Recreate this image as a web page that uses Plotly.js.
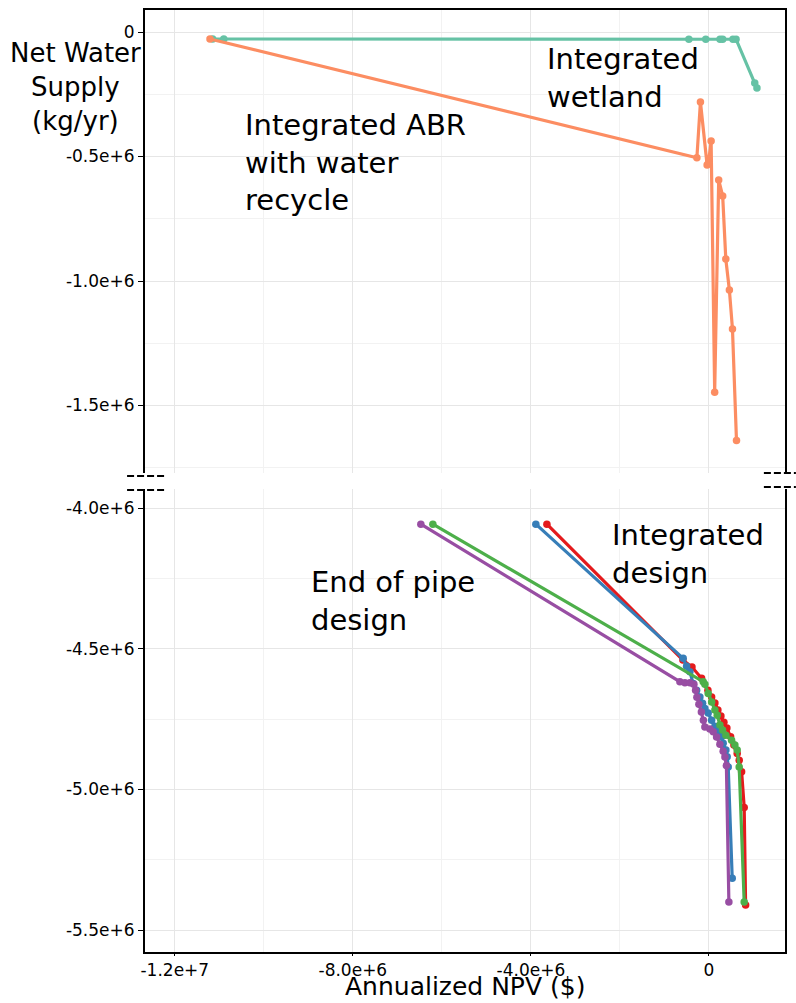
<!DOCTYPE html>
<html>
<head>
<meta charset="utf-8">
<script src="https://cdn.plot.ly/plotly-3.0.1.min.js"></script>
<style>html,body{margin:0;padding:0;background:#fff;}#chart{width:796px;height:1003px;}</style>
</head>
<body>
<div id="chart"></div>
<script>
// ---- Top panel: Integrated wetland (teal) ----
const wetlandX = [-11.15e6, -10.9e6, -0.45e6, -0.07e6, 0.25e6, 0.31e6, 0.54e6, 0.61e6, 1.03e6, 1.08e6];
const wetlandY = [-0.028e6, -0.028e6, -0.029e6, -0.029e6, -0.029e6, -0.029e6, -0.029e6, -0.029e6, -0.205e6, -0.225e6];

// ---- Top panel: Integrated ABR with water recycle (orange) ----
const abrX = [-11.21e6, -0.27e6, -0.19e6, -0.04e6, -0.01e6, 0.05e6, 0.13e6, 0.22e6, 0.31e6, 0.38e6, 0.46e6, 0.53e6, 0.62e6];
const abrY = [-0.028e6, -0.505e6, -0.281e6, -0.534e6, -0.526e6, -0.438e6, -1.447e6, -0.594e6, -0.659e6, -0.912e6, -1.036e6, -1.193e6, -1.641e6];

// ---- Bottom panel: Integrated design (red, blue) ----
const redX = [-3.64e6, -0.584e6, -0.38e6, -0.164e6, -0.022e6, 0.061e6, 0.135e6, 0.202e6, 0.270e6, 0.337e6, 0.404e6, 0.488e6, 0.562e6, 0.636e6, 0.681e6, 0.735e6, 0.793e6, 0.825e6];
const redY = [-4.057e6, -4.540e6, -4.565e6, -4.605e6, -4.647e6, -4.671e6, -4.693e6, -4.718e6, -4.739e6, -4.761e6, -4.782e6, -4.813e6, -4.842e6, -4.872e6, -4.896e6, -4.937e6, -5.064e6, -5.411e6];

const blueX = [-3.888e6, -0.578e6, -0.501e6, -0.427e6, -0.353e6, -0.276e6, -0.202e6, -0.142e6, -0.090e6, -0.016e6, 0.061e6, 0.135e6, 0.231e6, 0.285e6, 0.321e6, 0.382e6, 0.411e6, 0.434e6, 0.524e6];
const blueY = [-4.057e6, -4.534e6, -4.562e6, -4.582e6, -4.623e6, -4.647e6, -4.671e6, -4.694e6, -4.712e6, -4.728e6, -4.754e6, -4.775e6, -4.795e6, -4.813e6, -4.836e6, -4.860e6, -4.884e6, -4.920e6, -5.316e6];

// ---- Bottom panel: End of pipe design (green, purple) ----
const greenX = [-6.202e6, -0.128e6, -0.090e6, -0.016e6, 0.061e6, 0.135e6, 0.187e6, 0.247e6, 0.308e6, 0.382e6, 0.510e6, 0.584e6, 0.636e6, 0.681e6, 0.793e6];
const greenY = [-4.057e6, -4.617e6, -4.626e6, -4.659e6, -4.689e6, -4.718e6, -4.736e6, -4.771e6, -4.789e6, -4.807e6, -4.825e6, -4.842e6, -4.860e6, -4.920e6, -5.400e6];

const purpleX = [-6.472e6, -0.652e6, -0.539e6, -0.427e6, -0.337e6, -0.299e6, -0.270e6, -0.225e6, -0.169e6, -0.124e6, -0.090e6, 0.022e6, 0.097e6, 0.173e6, 0.247e6, 0.321e6, 0.360e6, 0.393e6, 0.449e6];
const purpleY = [-4.057e6, -4.617e6, -4.621e6, -4.621e6, -4.626e6, -4.647e6, -4.672e6, -4.697e6, -4.725e6, -4.754e6, -4.778e6, -4.785e6, -4.795e6, -4.814e6, -4.839e6, -4.864e6, -4.885e6, -4.915e6, -5.400e6];

// ---- Tick labels ----
const xTickVals = [-12e6, -8e6, -4e6, 0];
const xTickText = ["-1.2e+7", "-8.0e+6", "-4.0e+6", "0"];
const yTopTickVals = [0, -0.5e6, -1.0e6, -1.5e6];
const yTopTickText = ["0", "-0.5e+6", "-1.0e+6", "-1.5e+6"];
const yBotTickVals = [-4.0e6, -4.5e6, -5.0e6, -5.5e6];
const yBotTickText = ["-4.0e+6", "-4.5e+6", "-5.0e+6", "-5.5e+6"];

const FONT = "DejaVu Sans";
const TICK_SIZE = 17;

function tr(x, y, color, xa, ya) {
  return {
    x: x, y: y, xaxis: xa, yaxis: ya, type: 'scatter', mode: 'lines+markers',
    line: {color: color, width: 3.2}, marker: {color: color, size: 7.5},
    showlegend: false, hoverinfo: 'skip'
  };
}

const data = [
  tr(wetlandX, wetlandY, '#66c2a5', 'x2', 'y2'),
  tr(abrX, abrY, '#fc8d62', 'x2', 'y2'),
  tr(redX, redY, '#e41a1c', 'x', 'y'),
  tr(blueX, blueY, '#377eb8', 'x', 'y'),
  tr(greenX, greenY, '#4daf4a', 'x', 'y'),
  tr(purpleX, purpleY, '#984ea3', 'x', 'y')
];

const xRange = [-12.67e6, 1.71e6];
const gridMajor = '#e6e6e6';
const gridMinor = '#f2f2f2';

const layout = {
  width: 796, height: 1003,
  margin: {l: 145, r: 11, t: 10, b: 51},
  paper_bgcolor: '#ffffff', plot_bgcolor: '#ffffff',
  font: {family: FONT, color: '#000000', size: TICK_SIZE},
  showlegend: false,
  xaxis: {
    domain: [0, 1], anchor: 'y', range: xRange,
    tickmode: 'array', tickvals: xTickVals, ticktext: xTickText,
    ticks: 'outside', ticklen: 2, tickwidth: 1, tickcolor: '#000',
    showline: true, linecolor: '#000', linewidth: 2, mirror: false,
    showgrid: true, gridcolor: gridMajor, gridwidth: 1, zeroline: false,
    minor: {tickmode: 'linear', tick0: 0, dtick: 2e6, showgrid: true, gridcolor: gridMinor, ticks: ''},
    tickfont: {family: FONT, size: TICK_SIZE, color: '#000'}
  },
  xaxis2: {
    domain: [0, 1], anchor: 'y2', matches: 'x', range: xRange, side: 'top',
    tickmode: 'array', tickvals: xTickVals, showticklabels: false, ticks: '',
    showline: true, linecolor: '#000', linewidth: 2, mirror: false,
    showgrid: true, gridcolor: gridMajor, gridwidth: 1, zeroline: false,
    minor: {tickmode: 'linear', tick0: 0, dtick: 2e6, showgrid: true, gridcolor: gridMinor, ticks: ''}
  },
  yaxis: {
    domain: [0, 0.4915], anchor: 'x', range: [-5.578e6, -3.932e6],
    tickmode: 'array', tickvals: yBotTickVals, ticktext: yBotTickText,
    ticks: 'outside', ticklen: 5, tickwidth: 1, tickcolor: '#000',
    showline: true, linecolor: '#000', linewidth: 2, mirror: true,
    showgrid: true, gridcolor: gridMajor, gridwidth: 1, zeroline: false,
    minor: {tickmode: 'linear', tick0: -4.0e6, dtick: 0.25e6, showgrid: true, gridcolor: gridMinor, ticks: ''},
    tickfont: {family: FONT, size: TICK_SIZE, color: '#000'}
  },
  yaxis2: {
    domain: [0.5085, 1], anchor: 'x2', range: [-1.771e6, 0.0884e6],
    tickmode: 'array', tickvals: yTopTickVals, ticktext: yTopTickText,
    ticks: 'outside', ticklen: 5, tickwidth: 1, tickcolor: '#000',
    showline: true, linecolor: '#000', linewidth: 2, mirror: true,
    showgrid: true, gridcolor: gridMajor, gridwidth: 1, zeroline: false,
    minor: {tickmode: 'linear', tick0: 0, dtick: 0.25e6, showgrid: true, gridcolor: gridMinor, ticks: ''},
    tickfont: {family: FONT, size: TICK_SIZE, color: '#000'}
  },
  shapes: [
    {type: 'line', xref: 'paper', yref: 'paper', x0: -0.028, x1: 0.033, y0: 0.5053, y1: 0.5053, line: {color: '#000', width: 2, dash: '7px,3px'}},
    {type: 'line', xref: 'paper', yref: 'paper', x0: -0.028, x1: 0.033, y0: 0.4904, y1: 0.4904, line: {color: '#000', width: 2, dash: '7px,3px'}},
    {type: 'line', xref: 'paper', yref: 'paper', x0: 0.967, x1: 1.017, y0: 0.5085, y1: 0.5085, line: {color: '#000', width: 2, dash: '7px,3px'}},
    {type: 'line', xref: 'paper', yref: 'paper', x0: 0.967, x1: 1.017, y0: 0.4936, y1: 0.4936, line: {color: '#000', width: 2, dash: '7px,3px'}}
  ],
  annotations: [
    {xref: 'paper', yref: 'paper', x: 0.5, y: -0.0541, xanchor: 'center', yanchor: 'bottom', align: 'center', showarrow: false,
     text: 'Annualized NPV ($)', font: {family: FONT, size: 25, color: '#000'}},
    {xref: 'paper', yref: 'paper', x: -0.109, y: 0.918, xanchor: 'center', yanchor: 'middle', align: 'center', showarrow: false,
     text: 'Net Water<br>Supply<br>(kg/yr)', font: {family: FONT, size: 26, color: '#000'}},
    {xref: 'paper', yref: 'paper', x: 0.153, y: 0.8386, xanchor: 'left', yanchor: 'middle', align: 'left', showarrow: false,
     text: 'Integrated ABR<br>with water<br>recycle', font: {family: FONT, size: 29, color: '#000'}},
    {xref: 'paper', yref: 'paper', x: 0.625, y: 0.9283, xanchor: 'left', yanchor: 'middle', align: 'left', showarrow: false,
     text: 'Integrated<br>wetland', font: {family: FONT, size: 29, color: '#000'}},
    {xref: 'paper', yref: 'paper', x: 0.7266, y: 0.4230, xanchor: 'left', yanchor: 'middle', align: 'left', showarrow: false,
     text: 'Integrated<br>design', font: {family: FONT, size: 29, color: '#000'}},
    {xref: 'paper', yref: 'paper', x: 0.2563, y: 0.3721, xanchor: 'left', yanchor: 'middle', align: 'left', showarrow: false,
     text: 'End of pipe<br>design', font: {family: FONT, size: 29, color: '#000'}}
  ]
};

Plotly.newPlot('chart', data, layout, {displayModeBar: false, staticPlot: true});
</script>
</body>
</html>
